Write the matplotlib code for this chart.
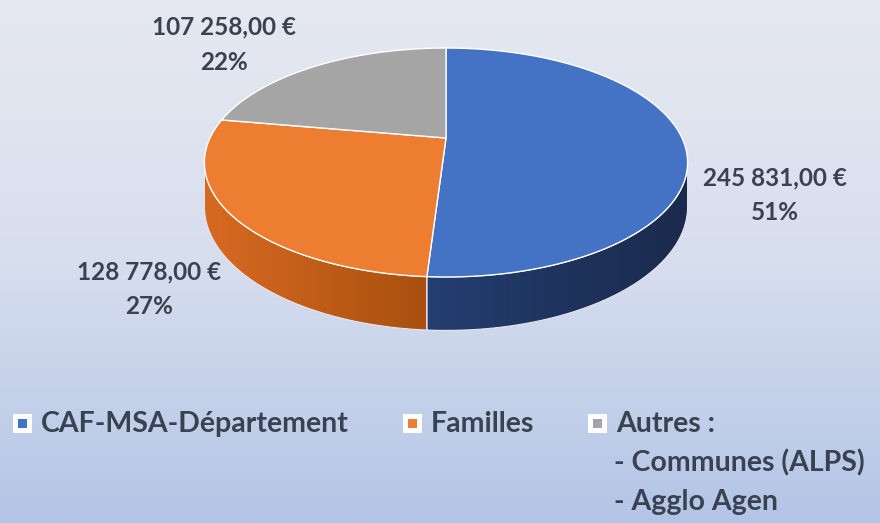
import matplotlib.pyplot as plt
import numpy as np
from matplotlib.patches import Polygon, Rectangle
from matplotlib.colors import LinearSegmentedColormap

plt.rcParams['font.family'] = ['Lato', 'DejaVu Sans']

# financement par origine
categories = ["CAF-MSA-Département", "Familles", "Autres :"]
montants = [245831.00, 128778.00, 107258.00]
etiquettes_montant = ["245 831,00 €", "128 778,00 €", "107 258,00 €"]
autres_detail = ["- Communes (ALPS)", "- Agglo Agen"]

couleurs_dessus = ["#4472C4", "#ED7D31", "#A5A5A5"]
# dégradé des flancs (gauche -> droite)
couleurs_cote = [("#233E70", "#1A2A4C"), ("#D76A22", "#A9500F"), ("#8C8C8C", "#6E6E6E")]
texte = "#3A4151"

W, H = 880, 523
fig = plt.figure(figsize=(W / 100, H / 100), dpi=100)
ax = fig.add_axes([0, 0, 1, 1])
ax.set_xlim(0, W)
ax.set_ylim(H, 0)
ax.axis("off")

# fond dégradé
fond = LinearSegmentedColormap.from_list("fond", ["#E6E9F1", "#D7DEEE", "#B3C5E6"])
grad = np.linspace(0, 1, 256).reshape(-1, 1)
ax.imshow(grad, cmap=fond, extent=[0, W, H, 0], aspect="auto", zorder=0)

# camembert 3D en perspective
cx, cy = 446, 138          # centre du disque projeté
b, c = -79.7, 0.214        # projection verticale y = (cy + b*v) / (1 + c*v)
A = 236                    # demi-largeur
prof = 42                  # épaisseur


def pt(theta, dessous=False):
    t = np.deg2rad(theta)
    u, v = np.cos(t), np.sin(t)
    k = 1.0 / (1 + c * v)
    x = cx + A * u * k
    y = (cy + b * v) * k
    if dessous:
        y += prof * k
    return x, y


total = sum(montants)
parts = [m / total for m in montants]
debut = 90.0
angles = []
for p in parts:
    fin = debut - 360 * p
    angles.append((debut, fin))
    debut = fin

# flancs visibles (avant du disque)
lim_g = 180 + np.rad2deg(np.arcsin(c))
lim_d = 360 - np.rad2deg(np.arcsin(c))
for (a0, a1), (cg, cd) in zip(angles, couleurs_cote):
    lo, hi = min(a0, a1), max(a0, a1)
    for dec in (0, -360, 360):
        l2, h2 = max(lo + dec, lim_g), min(hi + dec, lim_d)
        if l2 < h2:
            th = np.linspace(l2, h2, 100)
            haut = [pt(t) for t in th]
            bas = [pt(t, True) for t in th[::-1]]
            poly = Polygon(haut + bas, closed=True, facecolor="none",
                           edgecolor="none", zorder=2)
            ax.add_patch(poly)
            xs = [p[0] for p in haut]
            ys = [p[1] for p in haut + bas]
            cmap = LinearSegmentedColormap.from_list("flanc", [cg, cd])
            im = ax.imshow(np.linspace(0, 1, 128).reshape(1, -1), cmap=cmap,
                           extent=[min(xs), max(xs), max(ys), min(ys)],
                           aspect="auto", zorder=2)
            im.set_clip_path(poly)
            ax.add_patch(Polygon(haut + bas, closed=True, facecolor="none",
                                 edgecolor="#E9E4EC", lw=0.8, zorder=2.5))

# dessus
for (a0, a1), col in zip(angles, couleurs_dessus):
    th = np.linspace(a0, a1, 150)
    pts = [(cx, cy)] + [pt(t) for t in th]
    ax.add_patch(Polygon(pts, closed=True, facecolor=col, edgecolor="white",
                         lw=1.0, zorder=3))

# étiquettes de données
pourcent = [f"{round(p * 100)}%" for p in parts]
pos_lab = [(775, 178), (149, 272), (224, 27)]
for (x, y), m, pc in zip(pos_lab, etiquettes_montant, pourcent):
    ax.text(x, y, m, ha="center", va="center", fontsize=17.5,
            fontweight="bold", color=texte, zorder=5)
    ax.text(x, y + 35, pc, ha="center", va="center", fontsize=17.5,
            fontweight="bold", color=texte, zorder=5)

# légende
leg_x = [13, 403, 588]
leg_y = 424
for x, col, lab in zip(leg_x, couleurs_dessus, categories):
    ax.add_patch(Rectangle((x, leg_y - 10), 19, 19, facecolor="white",
                           edgecolor="none", zorder=4))
    ax.add_patch(Rectangle((x + 5, leg_y - 5), 9, 9, facecolor=col,
                           edgecolor="none", zorder=5))
    ax.text(x + 28, leg_y, lab, ha="left", va="center", fontsize=20.5,
            fontweight="bold", color=texte, zorder=5)
for i, lab in enumerate(autres_detail):
    ax.text(614, leg_y + 39 * (i + 1), lab, ha="left", va="center",
            fontsize=20.5, fontweight="bold", color=texte, zorder=5)

fig.savefig("out.png", dpi=100)
